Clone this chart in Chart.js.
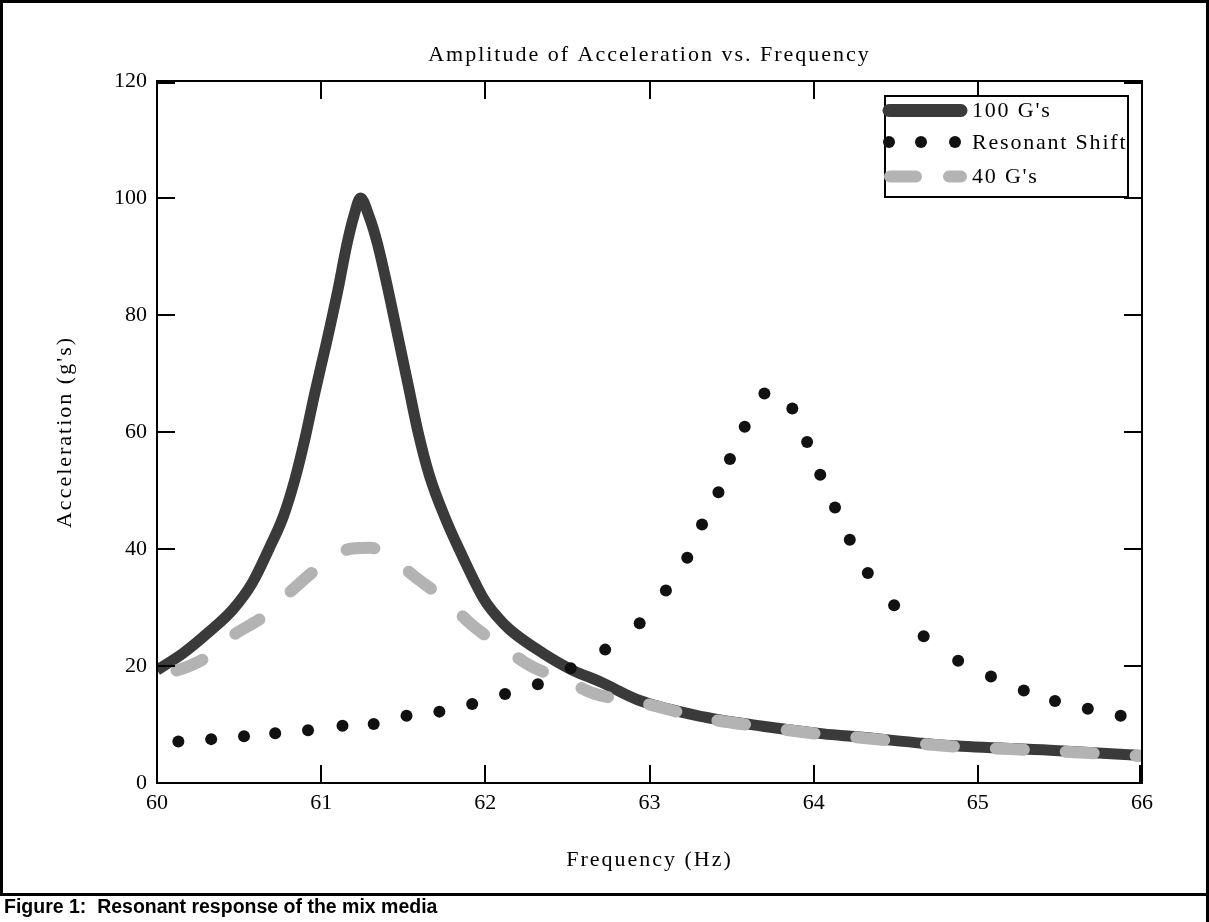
<!DOCTYPE html>
<html>
<head>
<meta charset="utf-8">
<title>Amplitude of Acceleration vs. Frequency</title>
<script src="https://cdn.jsdelivr.net/npm/chart.js@4.4.1/dist/chart.umd.min.js"></script>
<style>
  html, body { margin: 0; padding: 0; background: #fff; }
  #page { position: relative; width: 1209px; height: 922px; overflow: hidden; }
  #chart { position: absolute; left: 0; top: 0; }
  #frame { position: absolute; left: 0; top: 0; width: 1209px; height: 896px; box-sizing: border-box; border: 3px solid #000; }
  #frameRight { position: absolute; right: 0; top: 896px; width: 3px; height: 26px; background: #000; }
  #caption { position: absolute; left: 4px; top: 895px; font: bold 19.5px "Liberation Sans", Arial, sans-serif; line-height: 23px; white-space: pre; color: #000; }
</style>
</head>
<body>
<div id="page">
  <canvas id="chart" width="1209" height="922"></canvas>
  <div id="frame"></div>
  <div id="frameRight"></div>
  <div id="caption">Figure 1:  Resonant response of the mix media</div>
</div>
<script>
const chartTitle = 'Amplitude of Acceleration vs. Frequency';
const xAxisTitle = 'Frequency (Hz)';
const yAxisTitle = "Acceleration (g's)";
const seriesNames = ["100 G's", 'Resonant Shift', "40 G's"];
const xTickValues = [60, 61, 62, 63, 64, 65, 66];
const yTickValues = [0, 20, 40, 60, 80, 100, 120];

// 100 G's response (solid)
const freq100 = [60.00, 60.16, 60.32, 60.46, 60.58, 60.68, 60.77, 60.84, 60.90, 60.96, 61.03, 61.10, 61.16, 61.20, 61.24,
                 61.29, 61.34, 61.41, 61.47, 61.53, 61.59, 61.66, 61.76, 61.86, 61.99, 62.07, 62.15, 62.35, 62.53, 62.70,
                 62.94, 63.33, 63.69, 64.06, 64.26, 64.83, 65.44, 66.00];
const accel100 = [19.3, 22.2, 25.9, 29.6, 34.2, 39.9, 45.6, 51.9, 58.7, 66.5, 75.0, 84.0, 92.5, 97.0, 100.0,
                  97.0, 92.5, 84.0, 76.0, 68.0, 60.0, 52.5, 45.0, 38.8, 31.5, 28.5, 26.2, 22.2, 19.3, 17.3,
                  14.1, 11.3, 9.7, 8.4, 7.9, 6.4, 5.6, 4.7];

// 40 G's response (dashed)
const freq40 = [60.00, 60.09, 60.29, 60.45, 60.66, 60.82, 61.03, 61.19, 61.30, 61.40, 61.56, 61.76, 61.92, 62.13, 62.29,
                62.49, 62.66, 62.94, 63.33, 63.69, 64.06, 64.26, 64.83, 65.44, 66.00];
const accel40 = [18.6, 19.0, 21.3, 25.0, 28.7, 32.9, 37.8, 40.1, 40.2, 39.2, 35.5, 31.2, 27.0, 22.7, 19.8,
                 17.6, 15.3, 13.8, 11.1, 9.6, 8.3, 7.8, 6.3, 5.5, 4.6];

// resonant shift (dots)
const freqShift = [60.13, 60.33, 60.53, 60.72, 60.92, 61.13, 61.32, 61.52, 61.72, 61.92, 62.12, 62.32, 62.52, 62.73, 62.94, 63.10, 63.23, 63.32,
                   63.42, 63.49, 63.58, 63.70, 63.87, 63.96, 64.04, 64.13, 64.22, 64.33, 64.49, 64.67, 64.88, 65.08, 65.28, 65.47, 65.67, 65.87];
const accelShift = [7.1, 7.5, 8.0, 8.5, 9.0, 9.8, 10.1, 11.5, 12.2, 13.5, 15.2, 16.9, 19.6, 22.8, 27.3, 32.9, 38.5, 44.2,
                    49.7, 55.4, 60.9, 66.6, 64.0, 58.3, 52.7, 47.1, 41.6, 35.9, 30.4, 25.1, 20.9, 18.2, 15.8, 14.0, 12.7, 11.5];

const serif = '"Liberation Serif", "Times New Roman", serif';

function toPoints(xs, ys) {
    return xs.map((x, i) => ({ x: x, y: ys[i] }));
}

// frame with inward ticks, titles and the boxed legend (Mathcad look)
const mathcadFrame = {
    id: 'mathcadFrame',
    afterDraw(chart) {
        const ctx = chart.ctx;
        const a = chart.chartArea;
        const sx = chart.scales.x, sy = chart.scales.y;
        const tick = 18;
        ctx.save();
        ctx.strokeStyle = '#000';
        ctx.lineWidth = 2;
        ctx.strokeRect(a.left, a.top, a.right - a.left, a.bottom - a.top);
        ctx.beginPath();
        xTickValues.forEach(v => {
            const px = Math.round(sx.getPixelForValue(v));
            ctx.moveTo(px, a.bottom); ctx.lineTo(px, a.bottom - tick);
            ctx.moveTo(px, a.top); ctx.lineTo(px, a.top + tick);
        });
        yTickValues.forEach(v => {
            const py = Math.round(sy.getPixelForValue(v));
            ctx.moveTo(a.left, py); ctx.lineTo(a.left + tick, py);
            ctx.moveTo(a.right, py); ctx.lineTo(a.right - tick, py);
        });
        ctx.stroke();
        // heavier marks at the corners
        ctx.lineWidth = 4;
        ctx.beginPath();
        ctx.moveTo(a.left, a.top + 1); ctx.lineTo(a.left + tick, a.top + 1);
        ctx.moveTo(a.right, a.top + 1); ctx.lineTo(a.right - tick, a.top + 1);
        ctx.moveTo(a.right - 1, a.bottom); ctx.lineTo(a.right - 1, a.bottom - tick);
        ctx.stroke();

        // titles
        ctx.fillStyle = '#000';
        ctx.font = '22px ' + serif;
        ctx.letterSpacing = '2px';
        ctx.textAlign = 'center';
        ctx.textBaseline = 'alphabetic';
        const cx = (a.left + a.right) / 2;
        ctx.fillText(chartTitle, cx, 61);
        ctx.fillText(xAxisTitle, cx, 866);
        ctx.save();
        ctx.translate(71, (a.top + a.bottom) / 2);
        ctx.rotate(-Math.PI / 2);
        ctx.fillText(yAxisTitle, 0, 0);
        ctx.restore();

        // legend box
        const lg = { left: a.right - 257, top: a.top + 15, w: 243, h: 101 };
        ctx.fillStyle = '#fff';
        ctx.fillRect(lg.left, lg.top, lg.w, lg.h);
        ctx.lineWidth = 2;
        ctx.strokeRect(lg.left, lg.top, lg.w, lg.h);
        const rows = [lg.top + 14.5, lg.top + 46, lg.top + 80.5];
        const ds = chart.data.datasets;

        ctx.lineCap = 'round';
        ctx.strokeStyle = ds[0].borderColor;
        ctx.lineWidth = 13;
        ctx.beginPath();
        ctx.moveTo(lg.left + 4, rows[0]); ctx.lineTo(lg.left + 76, rows[0]);
        ctx.stroke();

        ctx.fillStyle = ds[1].pointBackgroundColor;
        [4, 36, 70].forEach(dx => {
            ctx.beginPath();
            ctx.arc(lg.left + dx, rows[1], 6, 0, Math.PI * 2);
            ctx.fill();
        });

        ctx.strokeStyle = ds[2].borderColor;
        ctx.lineWidth = 12;
        ctx.setLineDash([26, 33]);
        ctx.beginPath();
        ctx.moveTo(lg.left + 5, rows[2]); ctx.lineTo(lg.left + 76, rows[2]);
        ctx.stroke();
        ctx.setLineDash([]);

        ctx.fillStyle = '#000';
        ctx.textAlign = 'left';
        ctx.textBaseline = 'middle';
        ctx.letterSpacing = '1.8px';
        ds.forEach((d, i) => ctx.fillText(d.label, lg.left + 87, rows[i] + 1));
        ctx.restore();
    }
};

const tickFont = { family: serif, size: 22 };

new Chart(document.getElementById('chart'), {
    type: 'scatter',
    data: {
        datasets: [
            {
                label: seriesNames[0],
                data: toPoints(freq100, accel100),
                showLine: true,
                borderColor: '#3a3a3a',
                borderWidth: 11,
                borderJoinStyle: 'round',
                pointRadius: 0,
                cubicInterpolationMode: 'monotone',
                order: 2
            },
            {
                label: seriesNames[1],
                data: toPoints(freqShift, accelShift),
                showLine: false,
                pointRadius: 6,
                pointBorderWidth: 0,
                pointBackgroundColor: '#111',
                order: 0
            },
            {
                label: seriesNames[2],
                data: toPoints(freq40, accel40),
                showLine: true,
                borderColor: '#b3b3b3',
                borderWidth: 12,
                borderDash: [28, 42],
                borderDashOffset: 50,
                borderCapStyle: 'round',
                borderJoinStyle: 'round',
                pointRadius: 0,
                cubicInterpolationMode: 'monotone',
                order: 1
            }
        ]
    },
    options: {
        responsive: false,
        animation: false,
        events: [],
        layout: { padding: { left: 0, top: 81, right: 67, bottom: 99 } },
        plugins: { legend: { display: false }, tooltip: { enabled: false } },
        scales: {
            x: {
                type: 'linear',
                min: 60, max: 66,
                afterBuildTicks: s => { s.ticks = xTickValues.map(v => ({ value: v })); },
                afterFit: s => { s.height = 40; },
                grid: { display: false, drawTicks: false },
                border: { display: false },
                ticks: { color: '#000', font: tickFont, padding: 7, maxRotation: 0, autoSkip: false }
            },
            y: {
                type: 'linear',
                min: 0, max: 120,
                afterBuildTicks: s => { s.ticks = yTickValues.map(v => ({ value: v })); },
                afterFit: s => { s.width = 157; },
                grid: { display: false, drawTicks: false },
                border: { display: false },
                ticks: { color: '#000', font: tickFont, padding: 10 }
            }
        }
    },
    plugins: [mathcadFrame]
});
</script>
</body>
</html>
